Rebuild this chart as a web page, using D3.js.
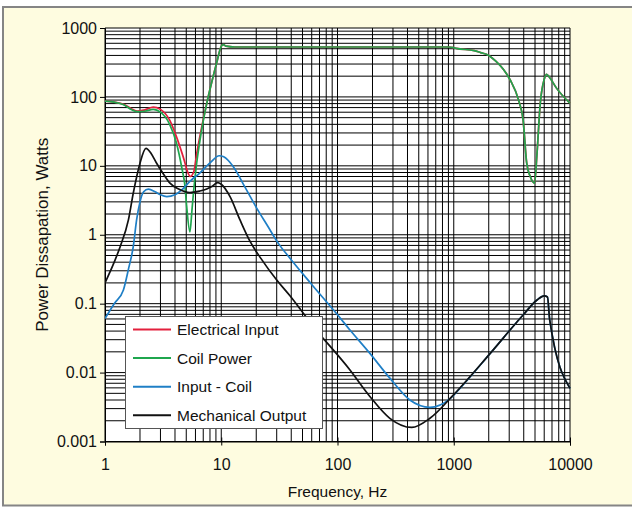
<!DOCTYPE html>
<html>
<head>
<meta charset="utf-8">
<script src="https://cdn.jsdelivr.net/npm/d3@7/dist/d3.min.js"></script>
<style>
  html, body { margin: 0; padding: 0; background: #fff; }
  svg { display: block; }
  text { font-family: "Liberation Sans", Arial, sans-serif; fill: #111; }
</style>
</head>
<body>
<svg id="chart" width="632" height="508"></svg>
<script>
// Power dissipation vs frequency (log–log)
const seriesNames = ["Electrical Input", "Coil Power", "Input - Coil", "Mechanical Output"];
const seriesColors = ["#e3203d", "#1fa64e", "#1f7fc6", "#111111"];

const elecFreq  = [1, 1.2, 1.45, 1.7, 1.9, 2.2, 2.6, 3.0, 3.6, 4.1, 4.7, 5.2, 5.4, 5.8, 6.15, 6.8, 7.5, 8.3, 9.1, 10.0, 10.4, 11, 13, 30, 100, 300, 900, 1000, 1050, 1500, 1700, 2000, 2300, 2680, 3060, 3610, 3950, 4240, 4550, 4960, 5200, 5550, 6000, 6300, 6700, 7680, 10000];
const elecWatts = [87, 84, 78, 67, 62, 65, 71, 66, 46, 27, 13.6, 7.8, 7.0, 8.2, 15, 37, 81, 166, 305, 540, 575, 545, 530, 530, 530, 530, 530, 520, 505, 470, 440, 400, 330, 250, 176, 90, 46, 11, 7, 5.6, 15, 81, 180, 213, 190, 133, 81];

const coilFreq  = [1, 1.2, 1.45, 1.7, 1.9, 2.2, 2.6, 3.0, 3.6, 4.1, 4.6, 4.88, 5.04, 5.38, 5.6, 5.8, 6.15, 6.8, 7.5, 8.3, 9.1, 10.0, 10.4, 11, 13, 30, 100, 300, 900, 1000, 1050, 1500, 1700, 2000, 2300, 2680, 3060, 3610, 3950, 4240, 4550, 4960, 5200, 5550, 6000, 6300, 6700, 7680, 10000];
const coilWatts = [87, 84, 77, 65, 61, 62, 66, 60, 40, 22, 9, 5, 2.6, 1.1, 2.3, 4.5, 11, 34, 80, 166, 305, 540, 575, 545, 530, 530, 530, 530, 530, 520, 505, 470, 440, 400, 330, 250, 176, 90, 46, 11, 7, 5.6, 15, 81, 180, 213, 190, 133, 81];

const diffFreq  = [1, 1.2, 1.44, 1.6, 1.75, 1.87, 2.0, 2.15, 2.36, 2.7, 3.0, 3.4, 4.0, 4.6, 5.4, 6.5, 8.0, 9.6, 10.5, 12.7, 16, 20, 25, 31, 39, 60, 100, 128, 190, 282, 419, 624, 930, 1130, 2060, 3950, 5200, 6000, 6400, 6690, 10000];
const diffWatts = [0.061, 0.1, 0.158, 0.33, 0.67, 1.64, 3.0, 4.2, 4.6, 4.2, 3.8, 3.57, 3.8, 4.5, 6.0, 7.8, 11, 14, 13.5, 9.7, 4.9, 2.5, 1.35, 0.75, 0.455, 0.19, 0.069, 0.0415, 0.019, 0.0083, 0.004, 0.00313, 0.0042, 0.0059, 0.019, 0.0686, 0.113, 0.13, 0.125, 0.058, 0.0059];

const mechFreq  = [1, 1.2, 1.35, 1.59, 1.75, 2.0, 2.25, 2.5, 2.78, 3.2, 3.62, 4.3, 5.38, 6.5, 7.5, 8.3, 9.3, 10, 11.9, 14.5, 17.7, 22, 30, 39, 60, 128, 190, 282, 435, 624, 990, 2060, 3950, 5200, 6000, 6400, 6690, 10000];
const mechWatts = [0.2, 0.4, 0.67, 1.64, 4.0, 10.9, 17.9, 15, 10.9, 7.5, 5.6, 4.6, 4.1, 4.3, 4.6, 5.0, 5.7, 5.4, 3.57, 1.64, 0.8, 0.45, 0.22, 0.13, 0.05, 0.0109, 0.0045, 0.00217, 0.0016, 0.00217, 0.0047, 0.019, 0.0686, 0.113, 0.13, 0.125, 0.058, 0.0059];

const xTickValues = [1, 10, 100, 1000, 10000];
const xTickLabels = ["1", "10", "100", "1000", "10000"];
const yTickValues = [0.001, 0.01, 0.1, 1, 10, 100, 1000];
const yTickLabels = ["0.001", "0.01", "0.1", "1", "10", "100", "1000"];

const xTitle = "Frequency, Hz";
const yTitle = "Power Dissapation, Watts";

const svg = d3.select("#chart");
const W = 632, H = 508;
const plot = { left: 105, right: 570, top: 28, bottom: 441.5 };

// outer panel
svg.append("rect").attr("x", 0).attr("y", 0).attr("width", W).attr("height", H).attr("fill", "#ffffff");
svg.append("rect")
  .attr("x", 3).attr("y", 7).attr("width", 660).attr("height", 498.5)
  .attr("fill", "#fefce0").attr("stroke", "#858585").attr("stroke-width", 2);

const x = d3.scaleLog().domain([1, 10000]).range([plot.left, plot.right]);
const y = d3.scaleLog().domain([0.001, 1000]).range([plot.bottom, plot.top]);

// plot area
svg.append("rect")
  .attr("x", plot.left).attr("y", plot.top)
  .attr("width", plot.right - plot.left).attr("height", plot.bottom - plot.top)
  .attr("fill", "#ffffff");

// grid: every 1..9 × 10^k
const xGrid = [];
for (let e = 0; e <= 4; e++) for (let m = 1; m <= 9; m++) { const v = m * Math.pow(10, e); if (v <= 10000) xGrid.push(v); }
const yGrid = [];
for (let e = -3; e <= 3; e++) for (let m = 1; m <= 9; m++) { const v = m * Math.pow(10, e); if (v <= 1000 + 1e-9) yGrid.push(v); }

const grid = svg.append("g").attr("stroke", "#000").attr("stroke-width", 1);
grid.selectAll("line.gx").data(xGrid).join("line")
  .attr("x1", d => x(d)).attr("x2", d => x(d))
  .attr("y1", plot.top).attr("y2", plot.bottom);
grid.selectAll("line.gy").data(yGrid).join("line")
  .attr("y1", d => y(d)).attr("y2", d => y(d))
  .attr("x1", plot.left).attr("x2", plot.right);

// axes
const xAxis = d3.axisBottom(x).tickValues(xTickValues).tickFormat((d, i) => xTickLabels[i]).tickSize(4).tickPadding(13);
const yAxis = d3.axisLeft(y).tickValues(yTickValues).tickFormat((d, i) => yTickLabels[i]).tickSize(5).tickPadding(3);

const gx = svg.append("g").attr("transform", `translate(0,${plot.bottom})`).call(xAxis);
gx.selectAll(".tick line").attr("y1", -4).attr("stroke", "#000");
const gy = svg.append("g").attr("transform", `translate(${plot.left},0)`).call(yAxis);
[gx, gy].forEach(g => {
  g.select(".domain").attr("stroke", "#000").attr("stroke-width", 1);
  g.selectAll(".tick text").attr("font-size", 16).attr("fill", "#111")
    .attr("font-family", "Liberation Sans, Arial, sans-serif");
});
gy.selectAll(".tick line").attr("x2", -5).attr("x1", 0);

// series
const series = [
  { f: elecFreq, w: elecWatts },
  { f: coilFreq, w: coilWatts },
  { f: diffFreq, w: diffWatts },
  { f: mechFreq, w: mechWatts }
];
const line = d3.line().x(d => x(d[0])).y(d => y(d[1])).curve(d3.curveMonotoneX);
const clipId = "plotclip";
svg.append("clipPath").attr("id", clipId).append("rect")
  .attr("x", plot.left).attr("y", plot.top - 2)
  .attr("width", plot.right - plot.left + 1).attr("height", plot.bottom - plot.top + 2);
const gLines = svg.append("g").attr("clip-path", `url(#${clipId})`);
series.forEach((s, i) => {
  gLines.append("path")
    .datum(s.f.map((f, k) => [f, s.w[k]]))
    .attr("fill", "none")
    .attr("stroke", seriesColors[i])
    .attr("stroke-width", 1.7)
    .attr("stroke-linejoin", "round")
    .attr("d", line);
});

// titles
svg.append("text").attr("x", (plot.left + plot.right) / 2).attr("y", 497)
  .attr("text-anchor", "middle").attr("font-size", 15.5).text(xTitle);
svg.append("text")
  .attr("transform", `translate(48,${(plot.top + plot.bottom) / 2}) rotate(-90)`)
  .attr("text-anchor", "middle").attr("font-size", 17).text(yTitle);

// legend
const lg = svg.append("g").attr("transform", "translate(125,316)");
lg.append("rect").attr("x", 0.5).attr("y", 0.5).attr("width", 197).attr("height", 112)
  .attr("fill", "#fff").attr("stroke", "#555").attr("stroke-width", 1);
seriesNames.forEach((name, i) => {
  const cy = 13.5 + i * 28.6;
  lg.append("line").attr("x1", 8).attr("x2", 46).attr("y1", cy).attr("y2", cy)
    .attr("stroke", seriesColors[i]).attr("stroke-width", 2);
  lg.append("text").attr("x", 52).attr("y", cy + 5.5).attr("font-size", 15.5).text(name);
});
</script>
</body>
</html>
